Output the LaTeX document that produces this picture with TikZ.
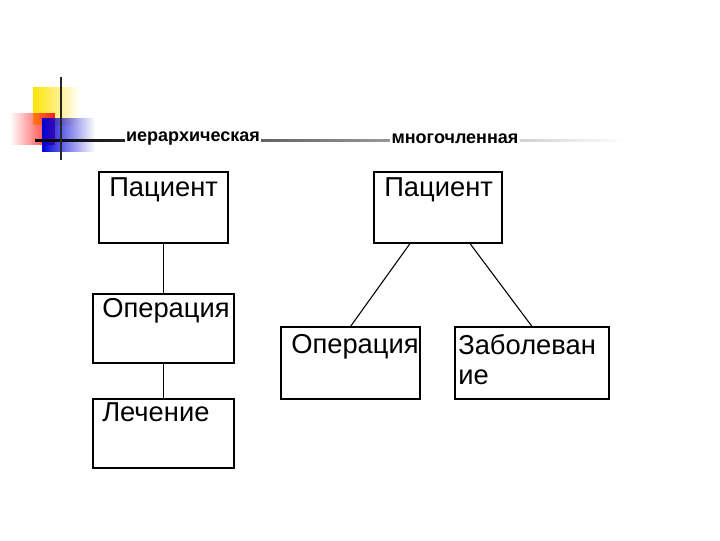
\documentclass[tikz,border=0pt]{standalone}
\usepackage{fontspec}
\setmainfont{Liberation Sans}
\usetikzlibrary{fadings}
\begin{document}
\begin{tikzpicture}[x=0.75pt,y=-0.75pt,
 box/.style={draw,line width=0.8pt,inner sep=0pt},
 txt/.style={anchor=north west,font=\fontsize{20.5}{23}\selectfont,align=left,inner sep=0pt},
 hdr/.style={font=\bfseries\fontsize{13.5}{14}\selectfont,fill=white,inner sep=1pt}]
\useasboundingbox (0,0) rectangle (720,540);
\fill[yellow!85!orange,path fading=east] (33,87) rectangle (80,125);
\fill[red!90,path fading=west] (10,113) rectangle (55,145);
\fill[blue!85!black,path fading=east] (42,118) rectangle (95,152);
\shade[left color=black,right color=white,draw=none] (35,139) rectangle (625,141.5);
\draw[line width=2pt,black!85] (61,77) -- (61,160);
\node[hdr] (h1) at (193,139) {иерархическая};
\node[hdr] (h2) at (455,139) {многочленная};
% left
\node[box,minimum width=96.75pt,minimum height=53.25pt] (p1) at (163.5,207.5) {};
\node[txt] at (109,177) {Пациент};
\node[box,minimum width=105.75pt,minimum height=51.75pt] (o1) at (163.5,328.5) {};
\node[txt] at (102,298) {Операция};
\node[box,minimum width=105.75pt,minimum height=51.75pt] (l1) at (163.5,433.5) {};
\node[txt] at (102,402) {Лечение};
\draw[line width=0.8pt] (p1.south) -- (o1.north);
\draw[line width=0.8pt] (o1.south) -- (l1.north);
% right
\node[box,minimum width=96pt,minimum height=53.25pt] (p2) at (438,207.5) {};
\node[txt] at (384,177) {Пациент};
\node[box,minimum width=104.25pt,minimum height=54pt] (o2) at (350.5,363) {};
\node[txt] at (291,334) {Операция};
\node[box,minimum width=115.5pt,minimum height=54pt] (z2) at (532,363) {};
\node[txt] at (458,334) {Заболеван\\ие};
\draw[line width=0.8pt] (p2.south)++(-28,0) coordinate (a) -- (o2.north);
\draw[line width=0.8pt] (p2.south)++(32,0) coordinate (b) -- (z2.north);
\end{tikzpicture}
\end{document}
